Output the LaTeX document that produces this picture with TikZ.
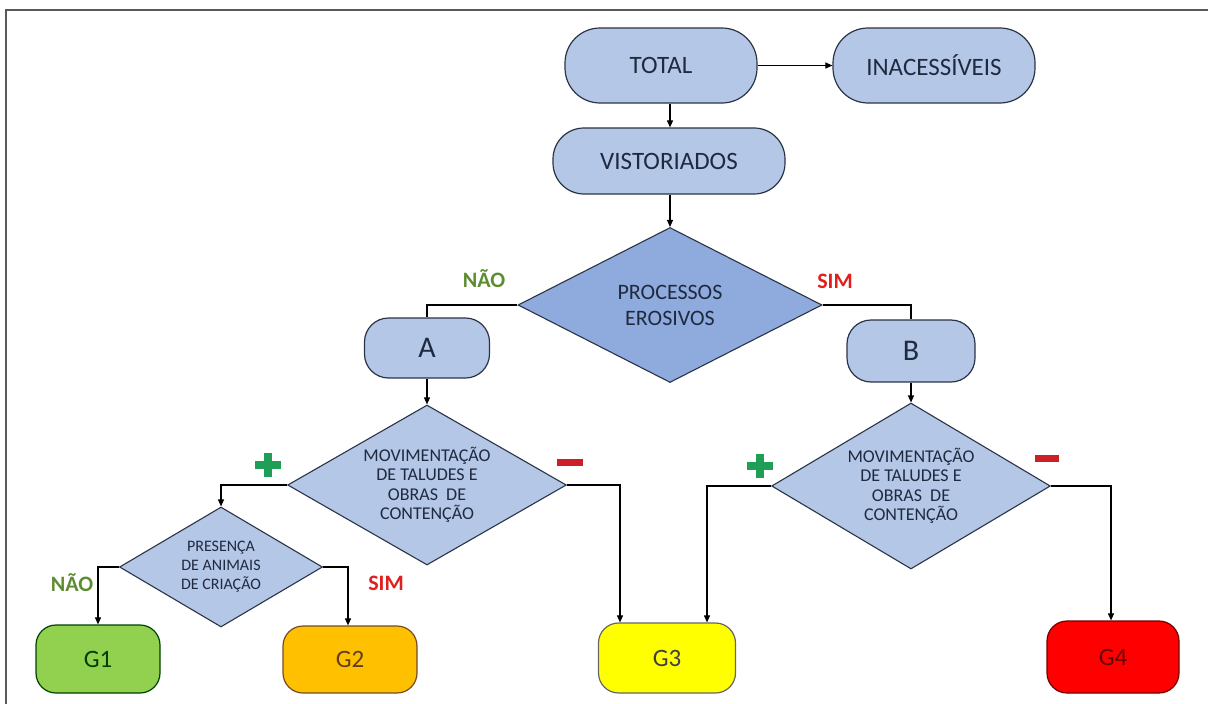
\documentclass[tikz,border=0pt]{standalone}
\usepackage{fontspec}
\setmainfont{Carlito}
\usetikzlibrary{shapes.geometric,arrows.meta,calc}
\definecolor{boxblue}{HTML}{B4C7E7}
\definecolor{darkblue}{HTML}{8FAADC}
\definecolor{edgecol}{HTML}{2A3446}
\definecolor{txtcol}{HTML}{1F2A40}
\definecolor{noGreen}{HTML}{5E8C31}
\definecolor{simRed}{HTML}{E0201E}
\definecolor{plusGreen}{HTML}{1F9E55}
\definecolor{minusRed}{HTML}{CC1F2A}
\definecolor{gOne}{HTML}{92D050}
\definecolor{gTwo}{HTML}{FFC000}
\definecolor{gThree}{HTML}{FFFF00}
\definecolor{gFour}{HTML}{FF0000}
\tikzset{
  term/.style={draw=edgecol, line width=1.2pt, fill=boxblue, text=txtcol,
    rounded corners=35pt, inner sep=0pt, font=\fontsize{25}{29}\selectfont},
  letterbox/.style={draw=edgecol, line width=1.2pt, fill=boxblue, text=txtcol,
    rounded corners=24pt, inner sep=0pt, font=\fontsize{30}{34}\selectfont},
  decide/.style={diamond, aspect=2, draw=edgecol, line width=1.1pt, fill=boxblue,
    text=txtcol, inner sep=0pt, align=center, font=\fontsize{18}{19.5}\selectfont},
  gbox/.style={draw, line width=1.2pt, rounded corners=20pt, inner sep=0pt,
    font=\fontsize{25}{29}\selectfont},
  conn/.style={line width=1.1pt, draw=black},
  arr/.style={conn, -{Triangle[length=7pt,width=6pt]}},
  nolab/.style={text=noGreen, font=\bfseries\fontsize{22}{25}\selectfont},
  simlab/.style={text=simRed, font=\bfseries\fontsize{22}{25}\selectfont},
}
\begin{document}
\begin{tikzpicture}[x=1pt,y=-1pt]
\useasboundingbox (0,0) rectangle (1208,704);
% frame
\draw[line width=1.5pt, draw=black!65] (6,704) -- (6,10) -- (1208,10);

% top nodes
\node[term, minimum width=192pt, minimum height=75pt] (total) at (661,65.5) {TOTAL};
\node[term, minimum width=202pt, minimum height=75pt] (inac) at (934,65.5) {INACESSÍVEIS};
\node[term, minimum width=232pt, minimum height=66pt, rounded corners=31pt] (vist) at (669,161) {VISTORIADOS};

% main decision
\node[decide, fill=darkblue, minimum width=304pt, minimum height=155pt,
      font=\fontsize{22}{26}\selectfont] (proc) at (670,305) {PROCESSOS\\EROSIVOS};

\node[letterbox, minimum width=125pt, minimum height=60pt] (A) at (427,348) {A};
\node[letterbox, minimum width=128pt, minimum height=62pt] (B) at (911,351) {B};

\node[decide, minimum width=272pt, minimum height=160pt] (m1) at (427,485)
  {MOVIMENTAÇÃO\\DE TALUDES E\\OBRAS~ DE\\CONTENÇÃO};
\node[decide, minimum width=270pt, minimum height=166pt] (m2) at (911,486)
  {MOVIMENTAÇÃO\\DE TALUDES E\\OBRAS~ DE\\CONTENÇÃO};

\node[decide, minimum width=203pt, minimum height=120pt, font=\fontsize{16}{19}\selectfont] (p2) at (221,567)
  {PRESENÇA\\DE ANIMAIS\\DE CRIAÇÃO};

% result nodes
\node[gbox, fill=gOne, draw=green!25!black, text=green!25!black, minimum width=124pt, minimum height=68pt] (g1) at (98,659) {G1};
\node[gbox, fill=gTwo, draw=brown!60!black, text=brown!50!black, minimum width=134pt, minimum height=67pt] (g2) at (350,659.5) {G2};
\node[gbox, fill=gThree, draw=black!60, text=black!75, minimum width=137pt, minimum height=70pt] (g3) at (667,658) {G3};
\node[gbox, fill=gFour, draw=red!45!black, text=red!40!black, minimum width=132pt, minimum height=72pt] (g4) at (1113,657) {G4};

% connectors
\draw[arr] (total.east) -- (inac.west);
\draw[arr] ([xshift=9pt]total.south) -- ([xshift=1pt]vist.north);
\draw[arr] (vist.south -| proc.north) -- (proc.north);
\draw[conn] (proc.west) -| (A.north);
\draw[conn] (proc.east) -| (B.north);
\draw[arr] (A.south) -- (m1.north);
\draw[arr] (B.south) -- (m2.north);
\draw[arr] (m1.west) -| (p2.north);
\draw[arr] (m1.east) -| ([xshift=-47pt]g3.north);
\draw[arr] (m2.west) -| ([xshift=40pt]g3.north);
\draw[arr] (m2.east) -| ([xshift=-2pt]g4.north);
\draw[arr] (p2.west) -| (g1.north);
\draw[arr] (p2.east) -| ([xshift=-2pt]g2.north);

% branch labels
\node[nolab] (no1) at (484,279) {NÃO};
\node[simlab] (sim1) at (835,281) {SIM};
\node[nolab] (no2) at (72,583) {NÃO};
\node[simlab] (sim2) at (386,583) {SIM};

% plus / minus signs
\coordinate (plusL) at (268,465);
\coordinate (minusL) at (570,462);
\coordinate (plusR) at (760,466);
\coordinate (minusR) at (1047,458);
\draw[plusGreen, line width=8pt] ([xshift=-13pt]plusL) -- ([xshift=13pt]plusL);
\draw[plusGreen, line width=8pt] ([yshift=-12pt]plusL) -- ([yshift=12pt]plusL);
\draw[plusGreen, line width=8pt] ([xshift=-13pt]plusR) -- ([xshift=13pt]plusR);
\draw[plusGreen, line width=8pt] ([yshift=-12pt]plusR) -- ([yshift=12pt]plusR);
\draw[minusRed, line width=7pt] ([xshift=-13pt]minusL) -- ([xshift=13pt]minusL);
\draw[minusRed, line width=7pt] ([xshift=-12pt]minusR) -- ([xshift=12pt]minusR);
\end{tikzpicture}
\end{document}
